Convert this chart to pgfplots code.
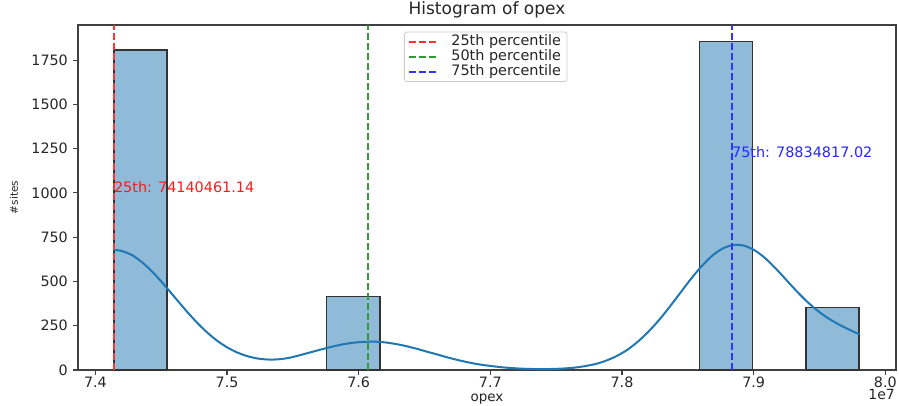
\documentclass[border=0pt]{standalone}
\usepackage{fontspec}
\setmainfont{DejaVu Sans}
\usepackage{pgfplots}
\pgfplotsset{compat=1.18}
\definecolor{histfill}{HTML}{8FBBD9}
\definecolor{kdeblue}{HTML}{1F77B4}
\definecolor{pgreen}{rgb}{0.2,0.6,0.2}
\begin{document}
\begin{tikzpicture}
\begin{axis}[
  name=ax,
  scale only axis,
  width=818bp, height=345bp,
  xmin=7.3868, xmax=8.0081,
  ymin=0, ymax=1948,
  clip mode=individual,
  xtick={7.4,7.5,7.6,7.7,7.8,7.9,8.0},
  xticklabels={7.4,7.5,7.6,7.7,7.8,7.9,8.0},
  ytick={0,250,500,750,1000,1250,1500,1750},
  scaled y ticks=false,
  /pgf/number format/assume math mode=true,
  /pgf/number format/1000 sep={},
  tick pos=left,
  tick align=outside,
  major tick length=5bp,
  axis line style={black!75, line width=1.1bp},
  every tick/.style={black!75, line width=1.1bp},
  ticklabel style={font=\fontsize{14.3bp}{16bp}\selectfont, text=black!85},
  xticklabel style={inner sep=0pt, anchor=north, yshift=-2bp},
  yticklabel style={inner sep=0pt, anchor=east, xshift=-5bp},
  xlabel={opex},
  xlabel style={at={(axis description cs:0.5,0)}, anchor=base, yshift=-31bp, inner sep=0pt, font=\fontsize{13.5bp}{16bp}\selectfont, text=black!85},
  ylabel={\#sites},
  ylabel style={at={(axis description cs:-0.0782,0.5)}, anchor=center, inner sep=0pt, font=\fontsize{10.5bp}{12bp}\selectfont, text=black!85},
  title={Histogram of opex},
  title style={at={(axis description cs:0.5,1)}, anchor=base, yshift=5bp, inner sep=0pt, font=\fontsize{17bp}{20bp}\selectfont, text=black!85},
  legend style={at={(axis description cs:0.3985,1)}, anchor=north west, yshift=-6.7bp,
    draw=black!20, line width=0.8bp, rounded corners=2.5bp, fill=white, fill opacity=0.8, text opacity=1,
    inner xsep=3.5bp, inner ysep=2.2bp,
    nodes={inner xsep=2.5bp, inner ysep=1bp, text height=10bp, text depth=3bp},
    column sep=10bp, row sep=0bp,
    font=\fontsize{14.4bp}{16bp}\selectfont, text=black!85},
  legend cell align=left,
  legend image code/.code={\draw[#1] (0bp,0bp) -- (29bp,0bp);},
]
% histogram bars (count per bin)
\addplot[fill=histfill, draw=black!80, line width=1.3bp, forget plot] coordinates {(7.4141,0) (7.4141,1807) (7.4545,1807) (7.4545,0)} -- cycle;
\addplot[fill=histfill, draw=black!80, line width=1.3bp, forget plot] coordinates {(7.5758,0) (7.5758,414) (7.6162,414) (7.6162,0)} -- cycle;
\addplot[fill=histfill, draw=black!80, line width=1.3bp, forget plot] coordinates {(7.8588,0) (7.8588,1854) (7.8993,1854) (7.8993,0)} -- cycle;
\addplot[fill=histfill, draw=black!80, line width=1.3bp, forget plot] coordinates {(7.9397,0) (7.9397,352) (7.9801,352) (7.9801,0)} -- cycle;
% KDE curve
\addplot[kdeblue, line width=2bp, smooth, forget plot] coordinates {
(7.4141,678) (7.420,672) (7.428,648) (7.436,605) (7.444,549) (7.452,483) (7.460,413)
(7.468,343) (7.476,277) (7.484,218) (7.492,168) (7.500,128) (7.508,98) (7.516,77)
(7.524,64) (7.532,59) (7.540,61) (7.548,70) (7.556,85) (7.564,101) (7.572,117)
(7.580,132) (7.588,145) (7.596,154) (7.604,159) (7.612,160) (7.620,156) (7.628,147)
(7.636,135) (7.644,120) (7.652,103) (7.660,87) (7.668,70) (7.676,55) (7.684,42)
(7.692,31) (7.700,23) (7.708,16) (7.716,11) (7.724,7.6) (7.732,5.7) (7.740,5.1)
(7.748,6) (7.756,8.6) (7.764,13.5) (7.772,22) (7.780,34) (7.788,53) (7.796,79)
(7.804,114) (7.812,160) (7.820,216) (7.828,281) (7.836,355) (7.844,433) (7.852,511)
(7.860,582) (7.868,642) (7.876,684) (7.884,705) (7.892,703) (7.900,679) (7.908,636)
(7.916,579) (7.924,515) (7.932,450) (7.940,390) (7.948,338) (7.956,295) (7.964,260)
(7.972,230) (7.9801,202)
};
% percentile lines
\addplot[red!80, line width=2bp, dash pattern=on 7bp off 3bp] coordinates {(7.41405,0) (7.41405,1948)};
\addlegendentry{25th percentile}
\addplot[pgreen, line width=2bp, dash pattern=on 7bp off 3bp] coordinates {(7.6070,0) (7.6070,1948)};
\addlegendentry{50th percentile}
\addplot[blue!80, line width=2bp, dash pattern=on 7bp off 3bp] coordinates {(7.88348,0) (7.88348,1948)};
\addlegendentry{75th percentile}
\node[anchor=base west, inner sep=0pt, text=red!90, font=\fontsize{14.4bp}{16bp}\selectfont] at (axis cs:7.41405,1000) {25th: 74140461.14};
\node[anchor=base west, inner sep=0pt, text=blue!85, font=\fontsize{14.4bp}{16bp}\selectfont] at (axis cs:7.88348,1200) {75th: 78834817.02};
\node[anchor=base east, inner sep=0pt, xshift=-1bp, yshift=-29.5bp, text=black!85, font=\fontsize{14bp}{16bp}\selectfont] at (rel axis cs:1,0) {1e7};
\end{axis}
\pgfresetboundingbox
\path[use as bounding box] ([xshift=-78bp,yshift=-36bp]ax.south west) rectangle ([xshift=3bp,yshift=25bp]ax.north east);
\end{tikzpicture}
\end{document}
